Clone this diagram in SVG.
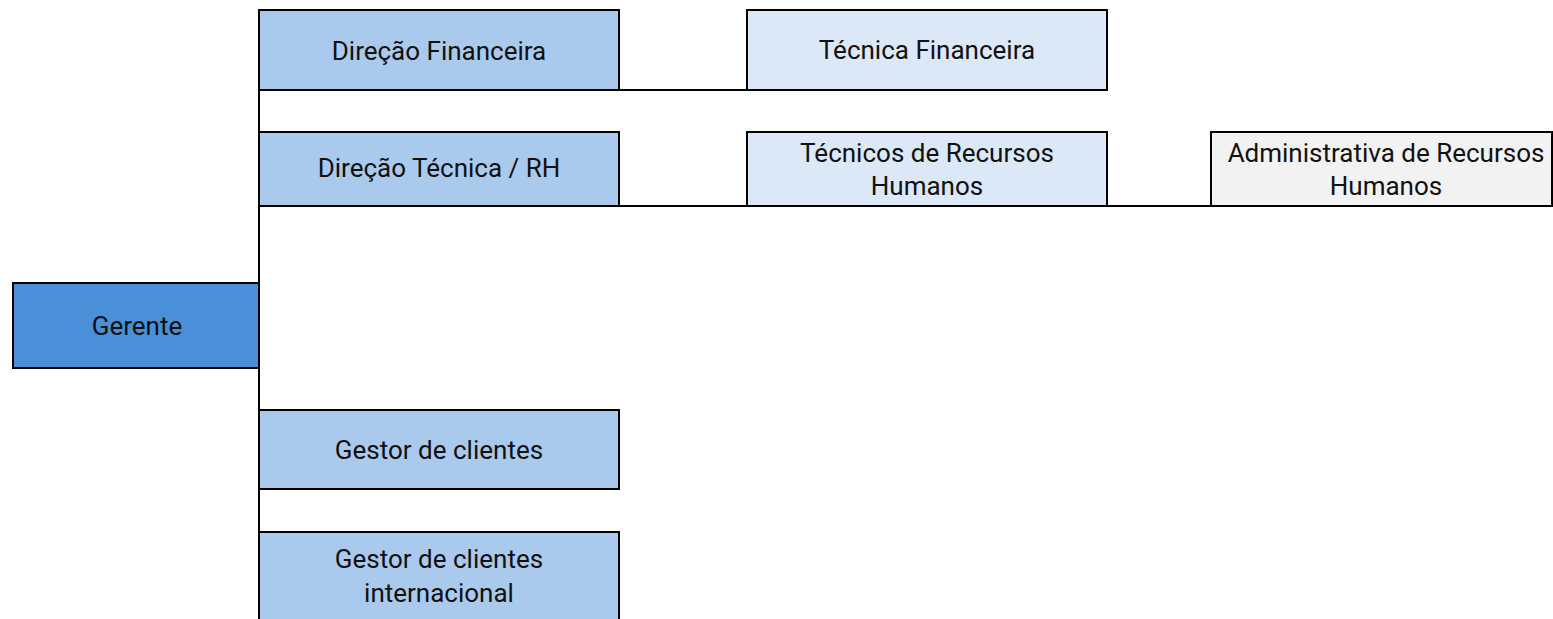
<svg xmlns="http://www.w3.org/2000/svg" width="1553" height="619" viewBox="0 0 1553 619">
<style>
.box{stroke:#000;stroke-width:2}
.l0{fill:#4a90d9}
.l1{fill:#a9caec}
.l2{fill:#dae8f7}
.l3{fill:#f2f2f2}
.t{font-family:Roboto,"Liberation Sans",sans-serif;font-size:26px;fill:#111;text-anchor:middle}
.c{stroke:#000;stroke-width:2;fill:none}
</style>
<rect width="1553" height="619" fill="#fff"/>
<g id="connectors">
<line class="c" x1="259" y1="9" x2="259" y2="619"/>
<line class="c" x1="259" y1="90" x2="747" y2="90"/>
<line class="c" x1="259" y1="206" x2="1553" y2="206"/>
</g>
<g id="gerente"><rect class="box l0" x="13" y="283" width="246" height="85"/><text class="t" x="137" y="335">Gerente</text></g>
<g id="direcao-financeira"><rect class="box l1" x="259" y="10" width="360" height="80"/><text class="t" x="439" y="60">Direção Financeira</text></g>
<g id="tecnica-financeira"><rect class="box l2" x="747" y="10" width="360" height="80"/><text class="t" x="927" y="59">Técnica Financeira</text></g>
<g id="direcao-tecnica"><rect class="box l1" x="259" y="132" width="360" height="74"/><text class="t" x="439" y="177">Direção Técnica / RH</text></g>
<g id="tecnicos-rh"><rect class="box l2" x="747" y="132" width="360" height="74"/><text class="t" x="927" y="161.5">Técnicos de Recursos</text><text class="t" x="927" y="195">Humanos</text></g>
<g id="administrativa-rh"><rect class="box l3" x="1211" y="132" width="341" height="74"/><text class="t" x="1386" y="161.5">Administrativa de Recursos</text><text class="t" x="1386" y="195">Humanos</text></g>
<g id="gestor-clientes"><rect class="box l1" x="259" y="410" width="360" height="79"/><text class="t" x="439" y="459">Gestor de clientes</text></g>
<g id="gestor-internacional"><rect class="box l1" x="259" y="532" width="360" height="100"/><text class="t" x="439" y="567.5">Gestor de clientes</text><text class="t" x="439" y="601.5">internacional</text></g>
</svg>
